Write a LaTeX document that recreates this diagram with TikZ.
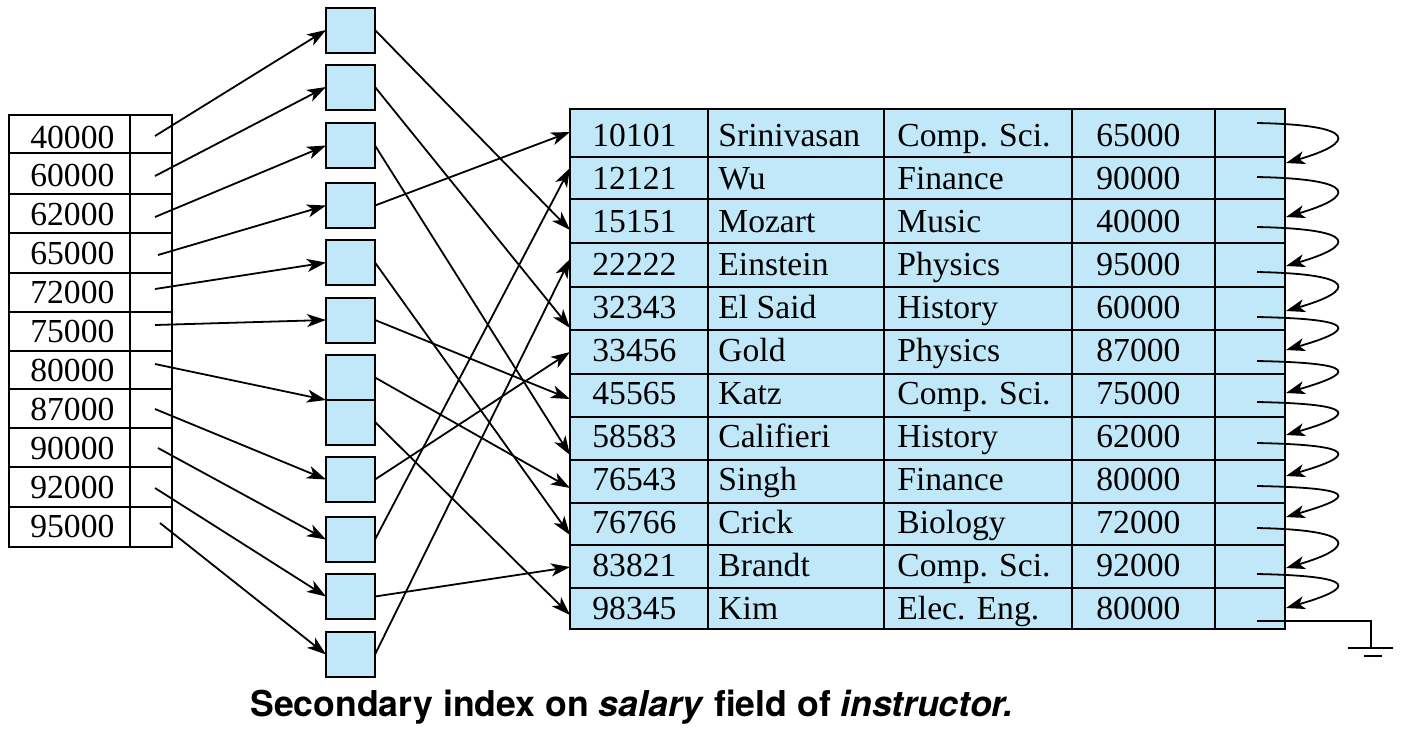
\documentclass[tikz,border=0pt]{standalone}
\usepackage{fontspec}
\setmainfont{Liberation Serif}
\newfontfamily\capfont{TeX Gyre Heros}
\usetikzlibrary{arrows.meta}
\definecolor{recblue}{RGB}{192,232,248}
\begin{document}
\begin{tikzpicture}[x=0.5pt,y=-0.5pt,
  arr/.style={-{Stealth[length=9.5pt,width=6.5pt,inset=2.6pt]}, line width=0.9pt},
  bucket/.style={draw, line width=1pt, fill=recblue, minimum width=24.5pt, minimum height=22.5pt, inner sep=0pt, outer sep=0pt},
  cell/.style={anchor=base west, inner sep=0pt, font=\fontsize{16.8}{18}\selectfont},
  grid/.style={line width=0.9pt}]
\useasboundingbox (0,0) rectangle (1408,730);

% ---- index file ----
\draw[grid, fill=white] (9,115) rectangle (172,547);
\draw[grid] (130,115) -- (130,547);
\foreach \y in {153,194,233,273,312,351,389,428,467,507}
  \draw[grid] (9,\y) -- (172,\y);
\foreach \v [count=\i] in {40000,60000,62000,65000,72000,75000,80000,87000,90000,92000,95000}
  \node[cell] (k\i) at (30,{148+38.9*(\i-1)}) {\v};
\foreach \x/\y [count=\i] in {155/136,155/176,155/217,158/255,155/289,155/325,155/364,155/409,158/448,155/488,160/523}
  \coordinate (p\i) at (\x,\y);

% ---- buckets ----
\foreach \y [count=\i] in {30,87,145.5,205.5,262.5,320,377.5,422,479.5,539.5,596.5,654.5}
  \node[bucket] (b\i) at (350.5,\y) {};

% ---- table ----
\draw[grid, line width=1pt, fill=recblue] (570,109) rectangle (1285,629);
\foreach \y in {157,199,243,287,330,374,417,460,503,545,588}
  \draw[grid] (570,\y) -- (1285,\y);
\foreach \x in {708,884,1072,1215}
  \draw[grid] (\x,109) -- (\x,629);
\foreach \a/\b/\c/\d [count=\i] in {10101/Srinivasan/Comp. Sci./65000,
  12121/Wu/Finance/90000, 15151/Mozart/Music/40000, 22222/Einstein/Physics/95000,
  32343/El Said/History/60000, 33456/Gold/Physics/87000, 45565/Katz/Comp. Sci./75000,
  58583/Califieri/History/62000, 76543/Singh/Finance/80000, 76766/Crick/Biology/72000,
  83821/Brandt/Comp. Sci./92000, 98345/Kim/Elec. Eng./80000}{
  \node[cell] (ra\i) at (592,{146+43*(\i-1)}) {\a};
  \node[cell] (rb\i) at (718,{146+43*(\i-1)}) {\b};
  \node[cell] (rc\i) at (897,{146+43*(\i-1)}) {\c};
  \node[cell] (rd\i) at (1096,{146+43*(\i-1)}) {\d};
}
% entry points on the table's left edge
\foreach \y [count=\i] in {132,168,230,259,328,352,399,455,488,535,567,615}
  \coordinate (e\i) at (570,\y);

% ---- index -> buckets ----
\foreach \i in {1,...,6} \draw[arr] (p\i) -- (b\i.west);
\draw[arr] (p7) -- (b7.south west);
\draw[arr] (p8) -- (b9.west);
\draw[arr] (p9) -- (b10.west);
\draw[arr] (p10) -- (b11.west);
\draw[arr] (p11) -- (b12.west);

% ---- buckets -> records ----
\foreach \b/\e in {1/3,2/5,3/8,4/1,5/10,6/7,7/9,8/12,9/6,10/2,11/11,12/4}
  \draw[arr] (b\b.east) -- (e\e);

% ---- chain of records ----
\foreach \y [count=\i] in {123,177,227,272,317,361,402,443,486,528,574,621}
  \coordinate (cs\i) at (1257,\y);
\foreach \y [count=\i] in {163,217,266,311,350,393,435,476,517,568,608}
  \coordinate (ct\i) at (1286,\y);
\foreach \i in {1,...,11}
  \draw[arr] (cs\i) .. controls +(103,2) and +(69,-20) .. (ct\i);
\coordinate (gnd) at (1371,648);
\draw[line width=0.9pt] (cs12) -| (gnd);
\draw[line width=0.9pt] (1348,648) -- (1393,648);
\draw[line width=0.9pt] (1364,656) -- (1382,656);

% ---- caption ----
\node[anchor=base west, inner sep=0pt, font=\capfont\bfseries\fontsize{17.8}{20}\selectfont] (cap) at (250,716)
  {Secondary index on \textit{salary} field of \textit{instructor.}};
\end{tikzpicture}
\end{document}
